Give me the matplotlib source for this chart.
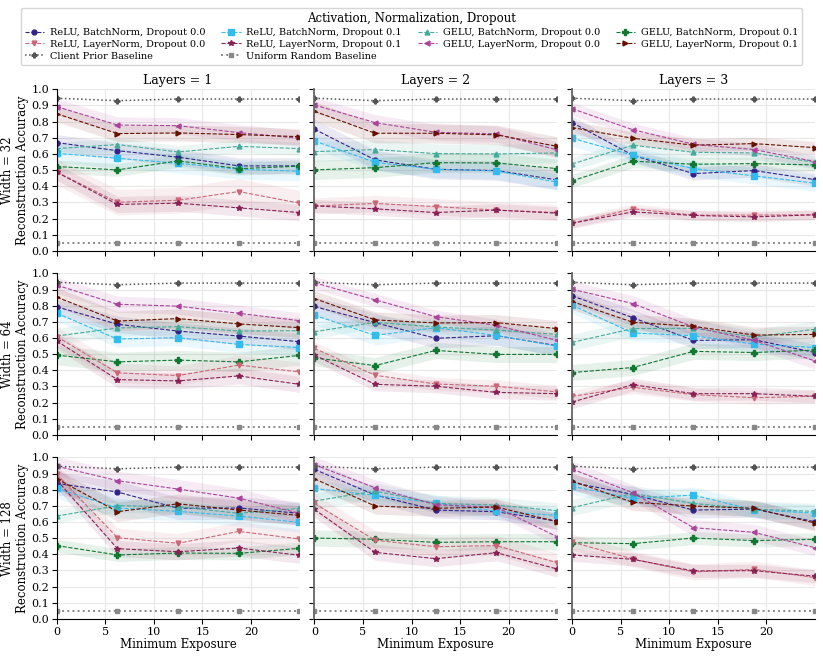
import matplotlib
matplotlib.use("Agg")
import matplotlib.pyplot as plt
import numpy as np

plt.rcParams['font.family'] = ['DejaVu Serif']

exposure = [0, 6.25, 12.5, 18.75, 25]
layers = [1, 2, 3]
widths = [32, 64, 128]

series_names = [
    "ReLU, BatchNorm, Dropout 0.0", "ReLU, BatchNorm, Dropout 0.1",
    "GELU, BatchNorm, Dropout 0.0", "GELU, BatchNorm, Dropout 0.1",
    "ReLU, LayerNorm, Dropout 0.0", "ReLU, LayerNorm, Dropout 0.1",
    "GELU, LayerNorm, Dropout 0.0", "GELU, LayerNorm, Dropout 0.1",
]
series_colors = ["#332288", "#33BBEE", "#44AA99", "#117733",
                 "#CC6677", "#882255", "#AA4499", "#661100"]
series_markers = ["o", "s", "^", "P", "v", "*", "<", ">"]
series_msize = [3.5, 5, 3.5, 4.5, 3.5, 4, 3.5, 3.5]

client_prior = [0.945, 0.93, 0.94, 0.94, 0.94]
uniform_random = [0.05, 0.05, 0.05, 0.05, 0.05]

# mean accuracy per (width, layers) panel, series in order of series_names
acc = {
    (32, 1): [[0.67, 0.62, 0.58, 0.526, 0.526],
              [0.604, 0.573, 0.542, 0.505, 0.493],
              [0.633, 0.658, 0.612, 0.647, 0.633],
              [0.522, 0.501, 0.557, 0.509, 0.524],
              [0.487, 0.301, 0.313, 0.367, 0.295],
              [0.487, 0.287, 0.295, 0.266, 0.237],
              [0.893, 0.779, 0.775, 0.732, 0.697],
              [0.849, 0.726, 0.73, 0.72, 0.707]],
    (32, 2): [[0.753, 0.563, 0.505, 0.497, 0.439],
              [0.68, 0.548, 0.505, 0.495, 0.425],
              [0.614, 0.627, 0.602, 0.60, 0.606],
              [0.501, 0.515, 0.546, 0.544, 0.509],
              [0.278, 0.293, 0.274, 0.252, 0.237],
              [0.278, 0.26, 0.237, 0.252, 0.233],
              [0.903, 0.794, 0.734, 0.724, 0.625],
              [0.864, 0.728, 0.728, 0.718, 0.647]],
    (32, 3): [[0.794, 0.592, 0.478, 0.497, 0.441],
              [0.697, 0.592, 0.509, 0.464, 0.419],
              [0.538, 0.654, 0.61, 0.606, 0.548],
              [0.433, 0.555, 0.536, 0.54, 0.532],
              [0.171, 0.26, 0.221, 0.221, 0.223],
              [0.171, 0.241, 0.219, 0.21, 0.223],
              [0.88, 0.75, 0.66, 0.627, 0.553],
              [0.763, 0.697, 0.654, 0.664, 0.639]],
    (64, 1): [[0.793, 0.685, 0.643, 0.612, 0.577],
              [0.753, 0.593, 0.602, 0.56, 0.541],
              [0.612, 0.662, 0.67, 0.643, 0.645],
              [0.494, 0.452, 0.463, 0.452, 0.492],
              [0.608, 0.384, 0.367, 0.432, 0.39],
              [0.581, 0.342, 0.334, 0.365, 0.313],
              [0.927, 0.809, 0.797, 0.753, 0.707],
              [0.853, 0.705, 0.72, 0.687, 0.664]],
    (64, 2): [[0.795, 0.695, 0.598, 0.614, 0.552],
              [0.741, 0.616, 0.664, 0.616, 0.548],
              [0.639, 0.697, 0.668, 0.649, 0.622],
              [0.477, 0.429, 0.523, 0.498, 0.498],
              [0.535, 0.369, 0.315, 0.301, 0.266],
              [0.494, 0.313, 0.301, 0.263, 0.255],
              [0.942, 0.836, 0.732, 0.678, 0.585],
              [0.844, 0.712, 0.693, 0.695, 0.658]],
    (64, 3): [[0.861, 0.726, 0.585, 0.589, 0.51],
              [0.803, 0.631, 0.614, 0.562, 0.541],
              [0.573, 0.658, 0.66, 0.606, 0.654],
              [0.386, 0.417, 0.517, 0.51, 0.525],
              [0.239, 0.295, 0.249, 0.23, 0.239],
              [0.203, 0.311, 0.255, 0.255, 0.239],
              [0.902, 0.813, 0.668, 0.585, 0.458],
              [0.826, 0.697, 0.672, 0.618, 0.622]],
    (128, 1): [[0.839, 0.786, 0.685, 0.687, 0.654],
               [0.808, 0.687, 0.666, 0.637, 0.598],
               [0.637, 0.701, 0.695, 0.654, 0.685],
               [0.454, 0.396, 0.408, 0.406, 0.437],
               [0.895, 0.503, 0.468, 0.542, 0.495],
               [0.86, 0.435, 0.416, 0.439, 0.394],
               [0.946, 0.856, 0.804, 0.748, 0.654],
               [0.868, 0.664, 0.713, 0.674, 0.641]],
    (128, 2): [[0.926, 0.767, 0.674, 0.664, 0.606],
               [0.808, 0.765, 0.718, 0.666, 0.641],
               [0.73, 0.792, 0.715, 0.705, 0.67],
               [0.501, 0.493, 0.474, 0.478, 0.478],
               [0.715, 0.487, 0.447, 0.454, 0.348],
               [0.678, 0.412, 0.373, 0.41, 0.309],
               [0.955, 0.812, 0.707, 0.691, 0.509],
               [0.868, 0.699, 0.685, 0.693, 0.602]],
    (128, 3): [[0.845, 0.771, 0.674, 0.68, 0.602],
               [0.821, 0.746, 0.767, 0.674, 0.656],
               [0.689, 0.777, 0.715, 0.68, 0.666],
               [0.472, 0.466, 0.501, 0.485, 0.493],
               [0.476, 0.371, 0.291, 0.307, 0.256],
               [0.396, 0.369, 0.297, 0.299, 0.264],
               [0.928, 0.781, 0.565, 0.536, 0.441],
               [0.854, 0.722, 0.699, 0.685, 0.594]],
}

# approximate spread of the shaded band per series in each panel
spread = {
    (32, 1): [0.05, 0.06, 0.04, 0.04, 0.08, 0.05, 0.05, 0.05],
    (32, 2): [0.06, 0.05, 0.06, 0.06, 0.05, 0.04, 0.05, 0.06],
    (32, 3): [0.04, 0.05, 0.04, 0.04, 0.03, 0.03, 0.04, 0.04],
    (64, 1): [0.05, 0.05, 0.05, 0.06, 0.06, 0.05, 0.05, 0.06],
    (64, 2): [0.06, 0.06, 0.04, 0.05, 0.04, 0.04, 0.04, 0.05],
    (64, 3): [0.05, 0.05, 0.05, 0.05, 0.04, 0.04, 0.05, 0.05],
    (128, 1): [0.07, 0.06, 0.04, 0.04, 0.06, 0.05, 0.06, 0.06],
    (128, 2): [0.05, 0.05, 0.05, 0.05, 0.06, 0.05, 0.05, 0.05],
    (128, 3): [0.05, 0.05, 0.05, 0.04, 0.05, 0.04, 0.05, 0.05],
}

fig, axes = plt.subplots(3, 3, figsize=(8.23, 6.57), dpi=100, sharey=True)
fig.subplots_adjust(left=0.069, right=0.99, top=0.864, bottom=0.058,
                    wspace=0.062, hspace=0.14)

handles = {}
for r, w in enumerate(widths):
    for c, l in enumerate(layers):
        ax = axes[r, c]
        ax.grid(True, color="#e8e8e8", linewidth=0.8)
        ax.set_axisbelow(True)
        for i, name in enumerate(series_names):
            y = np.array(acc[(w, l)][i])
            s = spread[(w, l)][i]
            ax.fill_between(exposure, y - s, y + s, color=series_colors[i],
                            alpha=0.1, linewidth=0)
            h, = ax.plot(exposure, y, linestyle="--", linewidth=0.8,
                         color=series_colors[i], marker=series_markers[i],
                         markersize=series_msize[i], label=name)
            handles[name] = h
        h, = ax.plot(exposure, client_prior, linestyle=":", linewidth=1.1,
                     color="#555555", marker="P", markersize=3.5,
                     label="Client Prior Baseline")
        handles["Client Prior Baseline"] = h
        h, = ax.plot(exposure, uniform_random, linestyle=":", linewidth=1.4,
                     color="#888888", marker="s", markersize=3.5,
                     label="Uniform Random Baseline")
        handles["Uniform Random Baseline"] = h

        ax.set_xlim(0, 25)
        ax.set_ylim(0, 1.0)
        ax.set_xticks([0, 5, 10, 15, 20])
        ax.set_yticks(np.arange(0, 1.01, 0.1))
        ax.tick_params(labelsize=8, length=3.5, pad=2)
        for sp in ["top", "right"]:
            ax.spines[sp].set_visible(False)
        if c == 0:
            ax.yaxis.set_major_formatter(plt.FormatStrFormatter("%.1f"))
            ax.set_ylabel(f"Width = {w}\nReconstruction Accuracy", fontsize=8.5,
                          labelpad=2)
        else:
            ax.spines["left"].set_color("#666666")
            ax.spines["left"].set_linewidth(1.3)
        if r == 0:
            ax.set_title(f"Layers = {l}", fontsize=9, pad=4)
        if r < 2:
            ax.tick_params(labelbottom=False)
        else:
            ax.set_xlabel("Minimum Exposure", fontsize=8.5, labelpad=1)

order = ["ReLU, BatchNorm, Dropout 0.0", "ReLU, LayerNorm, Dropout 0.0",
         "Client Prior Baseline",
         "ReLU, BatchNorm, Dropout 0.1", "ReLU, LayerNorm, Dropout 0.1",
         "Uniform Random Baseline",
         "GELU, BatchNorm, Dropout 0.0", "GELU, LayerNorm, Dropout 0.0",
         "GELU, BatchNorm, Dropout 0.1", "GELU, LayerNorm, Dropout 0.1"]
fig.legend([handles[n] for n in order], order, loc="upper center",
           bbox_to_anchor=(0.5, 0.995), ncol=4, fontsize=7,
           title="Activation, Normalization, Dropout", title_fontsize=8.5,
           frameon=True, columnspacing=1.6, handlelength=2.0,
           labelspacing=0.3, borderpad=0.4, handletextpad=0.6)

fig.savefig("out.png", dpi=100)
